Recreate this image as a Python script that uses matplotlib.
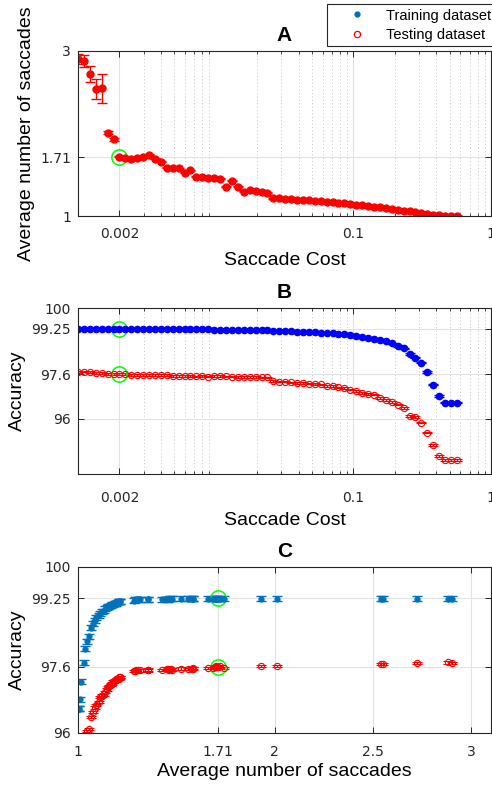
"""
Saccade cost sweep: average number of saccades and accuracy (train / test).
"""

import matplotlib
matplotlib.use("Agg")
from matplotlib import pyplot as plt
from matplotlib.lines import Line2D
from matplotlib.ticker import NullFormatter

plt.rcParams["font.family"] = ["Liberation Sans", "DejaVu Sans"]

# Saccade cost values (log spaced)
cost = [0.001, 0.001104, 0.001219, 0.001346, 0.001486, 0.001641, 0.001811, 0.002,
        0.002208, 0.002438, 0.002692, 0.002972, 0.003281, 0.003623, 0.004, 0.004416,
        0.004876, 0.005383, 0.005944, 0.006563, 0.007246, 0.008, 0.008833, 0.009752,
        0.01077, 0.01189, 0.01313, 0.01449, 0.016, 0.01767, 0.0195, 0.02153,
        0.02378, 0.02625, 0.02898, 0.032, 0.03533, 0.03901, 0.04307, 0.04755,
        0.0525, 0.05797, 0.064, 0.07066, 0.07802, 0.08614, 0.09511, 0.105,
        0.1159, 0.128, 0.1413, 0.156, 0.1723, 0.1902, 0.21, 0.2319,
        0.256, 0.2827, 0.3121, 0.3446, 0.3805, 0.4201, 0.4638, 0.5121, 0.5654]

# Average number of saccades per cost
saccades = [2.90, 2.88, 2.725, 2.54, 2.55, 2.01, 1.93, 1.72, 1.70, 1.687,
            1.70, 1.71, 1.743, 1.695, 1.66, 1.585, 1.585, 1.578, 1.525, 1.557,
            1.477, 1.475, 1.465, 1.46, 1.452, 1.355, 1.428, 1.355, 1.295, 1.315,
            1.303, 1.291, 1.283, 1.215, 1.215, 1.21, 1.206, 1.20, 1.194, 1.19,
            1.186, 1.18, 1.174, 1.166, 1.158, 1.154, 1.145, 1.137, 1.13, 1.121,
            1.113, 1.105, 1.093, 1.085, 1.077, 1.065, 1.057, 1.048, 1.036, 1.028,
            1.016, 1.012, 1.006, 1.005, 1.002]
sacc_err_first = [0.06, 0.075, 0.095, 0.12, 0.175, 0.015, 0.015]
sacc_err_rest = 0.006

# Accuracy (%)
acc_train = [99.23, 99.23, 99.23, 99.23, 99.23, 99.23, 99.23, 99.23, 99.23, 99.23,
             99.23, 99.23, 99.23, 99.23, 99.23, 99.23, 99.23, 99.23, 99.23, 99.23,
             99.23, 99.23, 99.23, 99.22, 99.22, 99.22, 99.22, 99.22, 99.22, 99.22,
             99.22, 99.21, 99.19, 99.18, 99.17, 99.17, 99.16, 99.14, 99.13, 99.13,
             99.12, 99.10, 99.09, 99.08, 99.06, 99.05, 99.03, 98.99, 98.94, 98.92,
             98.88, 98.84, 98.79, 98.72, 98.63, 98.54, 98.33, 98.21, 98.03, 97.69,
             97.23, 96.81, 96.58, 96.58, 96.58]
acc_test = [97.69, 97.70, 97.69, 97.66, 97.66, 97.61, 97.61, 97.61, 97.61, 97.57,
            97.58, 97.59, 97.57, 97.59, 97.57, 97.57, 97.55, 97.55, 97.55, 97.54,
            97.53, 97.54, 97.52, 97.54, 97.55, 97.53, 97.52, 97.51, 97.51, 97.51,
            97.51, 97.49, 97.49, 97.35, 97.34, 97.34, 97.31, 97.30, 97.28, 97.27,
            97.25, 97.24, 97.19, 97.17, 97.13, 97.11, 97.05, 96.99, 96.93, 96.90,
            96.87, 96.75, 96.68, 96.61, 96.51, 96.39, 96.10, 96.05, 95.86, 95.50,
            95.04, 94.65, 94.50, 94.50, 94.50]
acc_err = 0.03

# Chosen operating point
best_cost = 0.002
best_sacc = 1.71
best_acc_train = 99.25
best_acc_test = 97.6

sacc_err = sacc_err_first + [sacc_err_rest] * (len(cost) - len(sacc_err_first))

MATLAB_BLUE = "#0072BD"
GREEN = "#00FF00"
cap = 3.6
TICK_FONT = ["DejaVu Sans"]


def style_axes(ax, log_x, xpad):
    ax.set_axisbelow(True)
    ax.grid(True, which="major", color="#e2e2e2", lw=0.8)
    if log_x:
        ax.grid(True, which="minor", axis="x", color="#c4c4c4", lw=0.7, ls=(0, (1, 2.5)))
        ax.xaxis.set_minor_formatter(NullFormatter())
    ax.tick_params(which="both", direction="in", top=True, right=True,
                   colors="#262626", labelsize=10)
    ax.tick_params(which="major", length=4, width=0.7)
    ax.tick_params(which="minor", length=2.2, width=0.6)
    ax.tick_params(axis="y", pad=5)
    ax.tick_params(axis="x", pad=xpad)
    for lab in ax.get_xticklabels() + ax.get_yticklabels():
        lab.set_family(TICK_FONT)
    for s in ax.spines.values():
        s.set_color("#262626")
        s.set_linewidth(0.8)


fig = plt.figure(figsize=(4.92, 7.9), dpi=100)
ax_a = fig.add_axes([78 / 492, 1 - 216 / 790, 413 / 492, 165 / 790])
ax_b = fig.add_axes([78 / 492, 1 - 474 / 790, 413 / 492, 166 / 790])
ax_c = fig.add_axes([78 / 492, 1 - 733 / 790, 413 / 492, 166 / 790])

# A: number of saccades vs cost
ax_a.errorbar(cost, saccades, yerr=sacc_err, fmt="o", color="red", mfc="red",
              ms=5, capsize=cap, elinewidth=1, capthick=1)
ax_a.plot(cost, saccades, "o", color="#3a5a9a", ms=2.2)
ax_a.plot(best_cost, best_sacc, "o", mfc="none", mec=GREEN, ms=11, mew=1.1)
ax_a.set_xscale("log")
ax_a.set_xlim(0.001, 1)
ax_a.set_ylim(1, 3)
ax_a.set_xticks([0.002, 0.1, 1], ["0.002", "0.1", "1"])
ax_a.set_yticks([1, 1.71, 3], ["1", "1.71", "3"])
style_axes(ax_a, True, 8)
ax_a.set_title("A", fontsize=15, fontweight="bold", pad=7.5)
ax_a.set_xlabel("Saccade Cost", fontsize=14, labelpad=8)
ax_a.set_ylabel("Average number of saccades", fontsize=14, labelpad=3.5)

# B: accuracy vs cost
ax_b.errorbar(cost, acc_train, yerr=acc_err, fmt="o", color="blue", mfc="blue",
              ms=4.5, capsize=cap, elinewidth=1, capthick=1)
ax_b.errorbar(cost, acc_test, yerr=acc_err, fmt="o", color="red", mfc="none",
              ms=4.5, mew=0.8, capsize=cap, elinewidth=1, capthick=1)
ax_b.plot([best_cost, best_cost], [best_acc_train, best_acc_test], "o",
          mfc="none", mec=GREEN, ms=11, mew=1.1)
ax_b.set_xscale("log")
ax_b.set_xlim(0.001, 1)
ax_b.set_ylim(94, 100)
ax_b.set_xticks([0.002, 0.1, 1], ["0.002", "0.1", "1"])
ax_b.set_yticks([96, 97.6, 99.25, 100], ["96", "97.6", "99.25", "100"])
style_axes(ax_b, True, 12)
ax_b.set_title("B", fontsize=15, fontweight="bold", pad=7.5)
ax_b.set_xlabel("Saccade Cost", fontsize=14, labelpad=5.5)
ax_b.set_ylabel("Accuracy", fontsize=14, labelpad=4)

# C: accuracy vs number of saccades
ax_c.errorbar(saccades, acc_train, yerr=0.06, fmt="o", color=MATLAB_BLUE,
              mfc=MATLAB_BLUE, ms=3.5, capsize=cap, elinewidth=1, capthick=1)
ax_c.errorbar(saccades, acc_test, yerr=acc_err, fmt="o", color="red", mfc="none",
              ms=4.5, mew=0.8, capsize=cap, elinewidth=1, capthick=1)
ax_c.plot([best_sacc, best_sacc], [best_acc_train, best_acc_test], "o",
          mfc="none", mec=GREEN, ms=11, mew=1.1)
ax_c.set_xlim(1, 3.1)
ax_c.set_ylim(96, 100)
ax_c.set_xticks([1, 1.71, 2, 2.5, 3], ["1", "1.71", "2", "2.5", "3"])
ax_c.set_yticks([96, 97.6, 99.25, 100], ["96", "97.6", "99.25", "100"])
style_axes(ax_c, False, 9)
ax_c.set_title("C", fontsize=15, fontweight="bold", pad=7.5)
ax_c.set_xlabel("Average number of saccades", fontsize=14, labelpad=2.5)
ax_c.set_ylabel("Accuracy", fontsize=14, labelpad=4)

handles = [Line2D([], [], ls="none", marker="o", color=MATLAB_BLUE, ms=3.5),
           Line2D([], [], ls="none", marker="o", color="red", mfc="none", ms=4.5, mew=0.9)]
leg = fig.legend(handles, ["Training dataset", "Testing dataset"],
                 loc="lower left", bbox_to_anchor=(327 / 492, 1 - 46 / 790),
                 fontsize=10.5, frameon=True, fancybox=False, framealpha=1,
                 edgecolor="#262626", borderpad=0.3, handlelength=3.5,
                 handletextpad=0.25, labelspacing=0.35, borderaxespad=0)
leg.get_frame().set_linewidth(0.8)

fig.savefig("out.png", dpi=100)
